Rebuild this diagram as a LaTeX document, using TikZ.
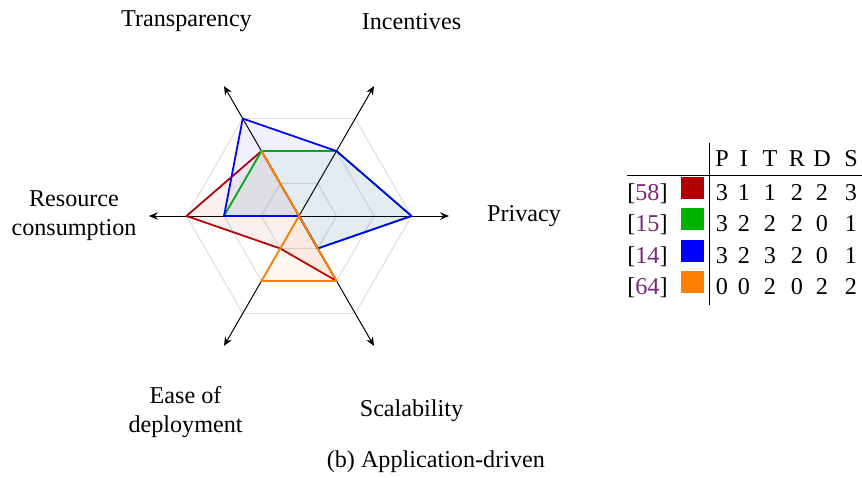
\documentclass[tikz,border=0pt]{standalone}
\usepackage{fontspec}
\setmainfont{Liberation Serif}
\usetikzlibrary{arrows.meta}

\definecolor{dunkelrot}{RGB}{178,0,0}
\definecolor{gruen}{RGB}{0,178,0}
\definecolor{blau}{RGB}{0,0,255}
\definecolor{orangeton}{RGB}{255,128,0}
\definecolor{zitat}{RGB}{120,40,120}

\begin{document}
\begin{tikzpicture}[x=0.6cm, y=0.6cm, font=\fontsize{11}{13.2}\selectfont,
  gitter/.style={draw=black!12, line width=0.5pt},
  achse/.style={{Stealth[length=4pt,width=3.4pt]}-{Stealth[length=4pt,width=3.4pt]}, line width=0.45pt},
  netz/.style={draw=#1, fill=#1, fill opacity=0.06, thick, line join=round},
  zelle/.style={anchor=base, inner sep=0pt},
  kasten/.style={anchor=south, inner sep=0pt, minimum width=10.4pt, minimum height=10pt}]
\useasboundingbox (-7.973,-6.96) rectangle (15.013,5.76);

% Gitter
\foreach \r in {1,2,3}
  \draw[gitter] (0:\r) -- (60:\r) -- (120:\r) -- (180:\r) -- (240:\r) -- (300:\r) -- cycle;

% Achsen
\foreach \w in {0,60,120}
  \draw[achse] (\w+180:4) -- (\w:4);

% Netze
\draw[netz=dunkelrot] (0:0) -- (60:0) -- (120:2) -- (180:3) -- (240:1) -- (300:2) -- cycle; % [58]
\draw[netz=gruen] (0:3) -- (60:2) -- (120:2) -- (180:2) -- (240:0) -- (300:1) -- cycle; % [15]
\draw[netz=blau] (0:3) -- (60:2) -- (120:3) -- (180:2) -- (240:0) -- (300:1) -- cycle; % [14]
\draw[netz=orangeton] (0:0) -- (60:0) -- (120:2) -- (180:0) -- (240:2) -- (300:2) -- cycle; % [64]

% Beschriftung
\node (priv) at (0:6) {Privacy};
\node (inc) at (60:6) {Incentives};
\node (trans) at (120:6) {Transparency};
\node[align=center] (res) at (180:6) {Resource\\consumption};
\node[align=center] (ease) at (240:6.05) {Ease of\\deployment};
\node (scal) at (300:6) {Scalability};

\node (cap) at (3.65,-6.56) {(b) Application-driven};

% Tabelle
\foreach \k/\x in {P/11.28, I/11.867, T/12.56, R/13.28, D/13.947, S/14.72}
  \node[zelle] (kopf\k) at (\x,1.333) {\k};

\foreach \zit/\farbe/\yy/\vP/\vI/\vT/\vR/\vD/\vS in {58/dunkelrot/0.423/3/1/1/2/2/3,
    15/gruen/-0.412/3/2/2/2/0/1, 14/blau/-1.257/3/2/3/2/0/1, 64/orangeton/-2.102/0/0/2/0/2/2} {
  \node[zelle] (zit\zit) at (9.293,\yy) {[\textcolor{zitat}{\zit}]};
  \node[kasten, fill=\farbe] (farbe\zit) at (10.493,\yy+0.03) {};
  \node[zelle] (p\zit) at (11.28,\yy) {\vP};
  \node[zelle] (i\zit) at (11.867,\yy) {\vI};
  \node[zelle] (t\zit) at (12.56,\yy) {\vT};
  \node[zelle] (r\zit) at (13.28,\yy) {\vR};
  \node[zelle] (d\zit) at (13.947,\yy) {\vD};
  \node[zelle] (s\zit) at (14.72,\yy) {\vS};
}

\draw[line width=0.45pt] (10.933,1.947) -- (10.933,-2.373); % senkrecht
\draw[line width=0.45pt] (8.747,1.093) -- (15.013,1.093); % waagrecht

\end{tikzpicture}
\end{document}
